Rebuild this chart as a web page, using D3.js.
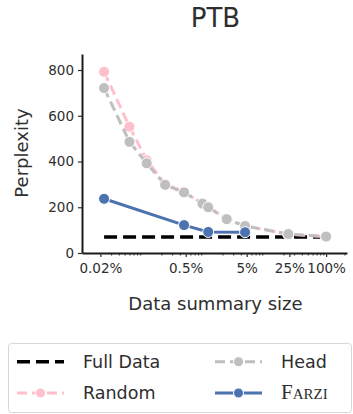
<!DOCTYPE html>
<html>
<head>
<meta charset="utf-8">
<script src="https://cdn.jsdelivr.net/npm/d3@7"></script>
<style>
  body { margin: 0; background: #fff; }
  svg { font-family: "DejaVu Sans", sans-serif; }
</style>
</head>
<body>
<svg id="plot" width="353" height="414"></svg>
<script>
// data (x = fraction of the dataset)
const sizes = [0.00023, 0.0006, 0.00115, 0.0023, 0.0047, 0.0094, 0.0117, 0.0235, 0.047, 0.24, 1];
const randomPpl = [792, 552, 405, 302, 268, 214, 202, 148, 119, 82, 71];
const headPpl = [721, 486, 392, 298, 265, 216, 200, 148, 118, 83, 72];
const farziSizes = [0.00023, 0.0047, 0.0117, 0.047];
const farziPpl = [237, 122, 92, 91];
const fullSizes = [0.00023, 1];
const fullPpl = [70, 70];

const xTickVals = [0.0002, 0.005, 0.05, 0.25, 1];
const xTickLabels = ['0.02%', '0.5%', '5%', '25%', '100%'];
const yTickVals = [0, 200, 400, 600, 800];

const plot = d3.select('#plot');
const ink = '#2e2e2e';

const xScale = d3.scaleLog()
  .domain([0.0001, 2.2])
  .range([82, 347]);

const yScale = d3.scaleLinear()
  .domain([0, 870])
  .range([253, 54]);

// minor log ticks 2..9 x 10^n, no decade ticks (majors were replaced)
const minorTicks = [];
for (let e = -4; e <= 0; e++) {
  for (let k = 2; k <= 9; k++) {
    const v = k * Math.pow(10, e);
    if (v <= 2.2 && !xTickVals.some(t => Math.abs(t - v) < 1e-9)) minorTicks.push(v);
  }
}

const xMinor = d3.axisBottom(xScale)
  .tickValues(minorTicks)
  .tickFormat('')
  .tickSizeInner(2.5)
  .tickSizeOuter(0);

const xAxis = d3.axisBottom(xScale)
  .tickValues(xTickVals)
  .tickFormat((d, i) => xTickLabels[i])
  .tickSizeInner(4)
  .tickSizeOuter(0)
  .tickPadding(6);

const yAxis = d3.axisLeft(yScale)
  .tickValues(yTickVals)
  .tickSizeInner(4)
  .tickSizeOuter(0)
  .tickPadding(4);

plot.append('g')
  .attr('transform', 'translate(0, 253)')
  .call(xMinor)
  .call(g => g.select('.domain').remove())
  .selectAll('.tick line').attr('stroke', ink).attr('stroke-width', 1);

plot.append('g')
  .classed('xAxis', true)
  .attr('transform', 'translate(0, 253)')
  .call(xAxis);

plot.append('g')
  .classed('yAxis', true)
  .attr('transform', 'translate(82, 0)')
  .call(yAxis);

plot.selectAll('.xAxis .domain, .yAxis .domain')
  .attr('stroke', '#1a1a1a')
  .attr('stroke-width', 2);
plot.selectAll('.xAxis .tick line, .yAxis .tick line')
  .attr('stroke', ink)
  .attr('stroke-width', 1.2);
plot.selectAll('.xAxis text, .yAxis text')
  .attr('fill', ink)
  .style('font-size', '13.5px')
  .style('font-family', '"DejaVu Sans", sans-serif');

// lines
const line = d3.line()
  .x(d => xScale(d[0]))
  .y(d => yScale(d[1]));

const series = [
  { name: 'Full Data', xs: fullSizes, ys: fullPpl, color: '#000000', dash: '13,6', width: 3.5, marker: false },
  { name: 'Random', xs: sizes, ys: randomPpl, color: '#ffc0cb', dash: '10,5', width: 3, marker: true },
  { name: 'Head', xs: sizes, ys: headPpl, color: '#bfbfbf', dash: '10,5', width: 3, marker: true },
  { name: 'Farzi', xs: farziSizes, ys: farziPpl, color: '#4c72b0', dash: null, width: 3, marker: true }
];

series.forEach(s => {
  const pts = s.xs.map((x, i) => [x, s.ys[i]]);
  plot.append('path')
    .attr('d', line(pts))
    .attr('fill', 'none')
    .attr('stroke', s.color)
    .attr('stroke-width', s.width)
    .attr('stroke-dasharray', s.dash);
  if (s.marker) {
    plot.append('g').selectAll('circle')
      .data(pts)
      .join('circle')
      .attr('cx', d => xScale(d[0]))
      .attr('cy', d => yScale(d[1]))
      .attr('r', 5.5)
      .attr('fill', s.color)
      .attr('stroke', '#fff')
      .attr('stroke-width', 1);
  }
});

// labels
plot.append('text')
  .attr('x', 215.5).attr('y', 27)
  .attr('text-anchor', 'middle')
  .attr('fill', ink)
  .style('font-size', '26px')
  .text('PTB');

plot.append('text')
  .attr('x', 215.5).attr('y', 310)
  .attr('text-anchor', 'middle')
  .attr('fill', ink)
  .style('font-size', '18px')
  .text('Data summary size');

plot.append('text')
  .attr('transform', 'translate(28, 153) rotate(-90)')
  .attr('text-anchor', 'middle')
  .attr('fill', ink)
  .style('font-size', '18px')
  .text('Perplexity');

// legend
const legend = plot.append('g');
legend.append('rect')
  .attr('x', 8.5).attr('y', 343.5)
  .attr('width', 343).attr('height', 69)
  .attr('rx', 3)
  .attr('fill', '#fff')
  .attr('stroke', '#d6d6d6');

const legendPos = [
  { x: 17, y: 361.7 },
  { x: 17, y: 393 },
  { x: 215, y: 361.7 },
  { x: 215, y: 393 }
];

series.forEach((s, i) => {
  const p = legendPos[i];
  const item = legend.append('g').attr('transform', `translate(${p.x}, ${p.y})`);
  item.append('line')
    .attr('x1', 0).attr('x2', 47)
    .attr('stroke', s.color)
    .attr('stroke-width', s.width)
    .attr('stroke-dasharray', s.dash);
  if (s.marker) {
    item.append('circle')
      .attr('cx', 23.5).attr('r', 5)
      .attr('fill', s.color)
      .attr('stroke', '#fff')
      .attr('stroke-width', 1);
  }
  const t = item.append('text')
    .attr('x', 66).attr('y', 6)
    .attr('fill', ink)
    .style('font-size', '17.5px')
    .text(s.name);
  if (s.name === 'Farzi') {
    t.style('font-family', '"Liberation Serif", serif')
      .style('font-variant', 'small-caps')
      .style('font-size', '21px');
  }
});
</script>
</body>
</html>
